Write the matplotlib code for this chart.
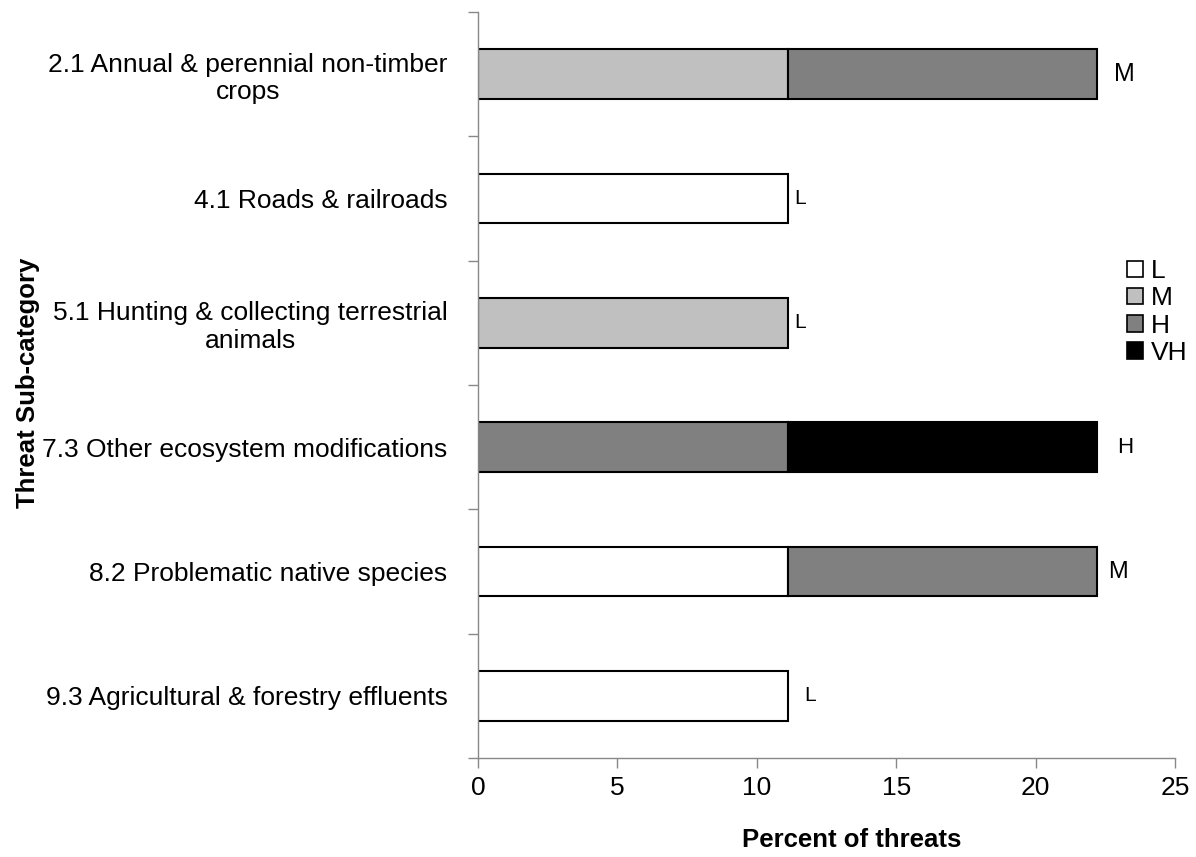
import matplotlib
matplotlib.use('Agg')
import matplotlib.pyplot as plt
from matplotlib.patches import Patch
import numpy as np

plt.rcParams['font.family'] = ['Liberation Sans', 'DejaVu Sans']

# categories, top to bottom
categories = ['2.1 Annual & perennial non-timber\ncrops',
              '4.1 Roads & railroads',
              '5.1 Hunting & collecting terrestrial\nanimals',
              '7.3 Other ecosystem modifications',
              '8.2 Problematic native species',
              '9.3 Agricultural & forestry effluents']

# percent of threats per severity
L_vals = [0, 11.11, 0, 0, 11.11, 11.11]
M_vals = [11.11, 0, 11.11, 0, 0, 0]
H_vals = [11.11, 0, 0, 11.11, 11.11, 0]
VH_vals = [0, 0, 0, 11.11, 0, 0]

series_names = ['L', 'M', 'H', 'VH']
series_colors = ['white', '#c0c0c0', '#808080', 'black']

# overall rating written next to each bar
ratings = ['M', 'L', 'L', 'H', 'M', 'L']
rating_x = [23.2, 11.55, 11.55, 23.2, 22.96, 11.9]
rating_size = [18, 15, 15, 16, 17, 15]

fig = plt.figure(figsize=(11.96, 8.57), dpi=100)
ax = fig.add_axes([478/1196, 1 - 758/857, 697/1196, 746/857])

y = np.arange(len(categories))
left = np.zeros(len(categories))
for name, vals, col in zip(series_names, [L_vals, M_vals, H_vals, VH_vals], series_colors):
    vals = np.array(vals)
    lw = [1.5 if v > 0 else 0 for v in vals]
    ax.barh(y, vals, left=left, height=0.4, color=col, edgecolor='black', linewidth=lw)
    left += vals

for i, (r, x, s) in enumerate(zip(ratings, rating_x, rating_size)):
    ax.text(x, i, r, fontsize=s, ha='center', va='center')

ax.set_xlim(0, 25)
ax.set_ylim(len(categories) - 0.5, -0.5)
ax.set_xticks([0, 5, 10, 15, 20, 25])
ax.set_yticks(y)
ax.set_yticklabels(categories, multialignment='center')
ax.set_yticks(np.arange(-0.5, len(categories)), minor=True)
ax.tick_params(axis='y', which='major', length=0, pad=22, labelsize=19)
ax.tick_params(axis='y', which='minor', length=7, color='#888888', width=1)
ax.tick_params(axis='x', length=7, color='#888888', width=1, labelsize=19, pad=6)

for s in ['top', 'right']:
    ax.spines[s].set_visible(False)
for s in ['left', 'bottom']:
    ax.spines[s].set_color('#888888')
    ax.spines[s].set_linewidth(1)

fig.text(852/1196, 1 - 840/857, 'Percent of threats', fontsize=18.5,
         fontweight='bold', ha='center', va='center')
fig.text(28/1196, 1 - 383/857, 'Threat Sub-category', fontsize=18.5,
         fontweight='bold', ha='center', va='center', rotation=90)

handles = [Patch(facecolor=c, edgecolor='black', linewidth=1.2) for c in series_colors]
ax.legend(handles, series_names, loc='center left',
          bbox_to_anchor=(1127/1196, 1 - 312/857),
          bbox_transform=fig.transFigure, frameon=False, fontsize=19,
          handlelength=0.6, handleheight=0.6, handletextpad=0.3,
          labelspacing=0.12, borderpad=0, borderaxespad=0)

plt.savefig('out.png', dpi=100)
